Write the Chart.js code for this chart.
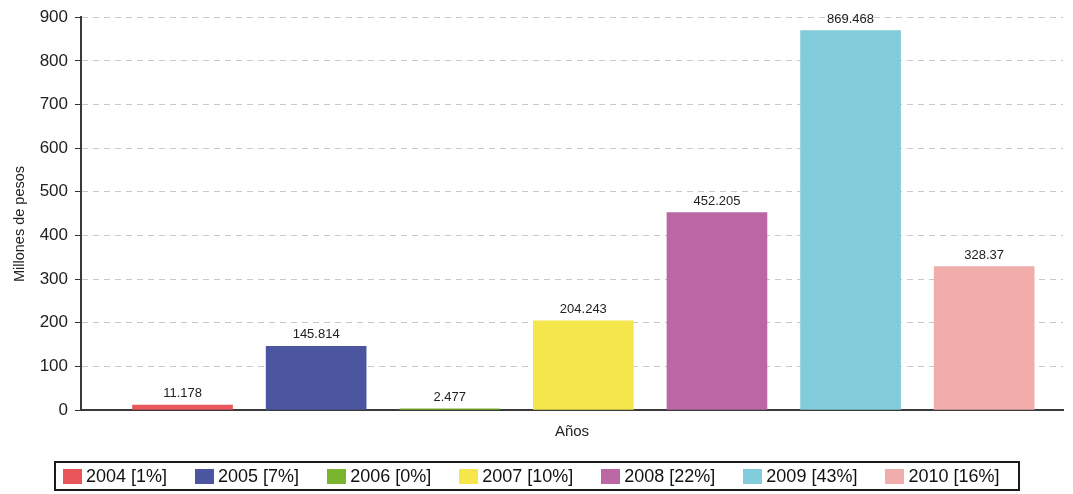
<!DOCTYPE html>
<html>
<head>
<meta charset="utf-8">
<script src="https://cdn.jsdelivr.net/npm/chart.js@4.4.0/dist/chart.umd.min.js"></script>
<style>
  body { margin: 0; background: #fff; font-family: 'Liberation Sans', Arial, sans-serif; }
  #wrap { position: relative; width: 1073px; height: 494px; }
  #legend {
    position: absolute; left: 54px; top: 461px; width: 966px; height: 30px;
    box-sizing: border-box; border: 2px solid #1a1a1a;
    display: flex; align-items: center; padding-left: 7px; white-space: nowrap;
  }
  .item { display: flex; flex-shrink: 0; align-items: center; margin-right: 28px; font-size: 18px; color: #111; }
  .item:last-child { margin-right: 0; }
  .sw { width: 19px; height: 15px; margin-right: 4px; flex-shrink: 0; }
</style>
</head>
<body>
<div id="wrap">
  <canvas id="chart" width="1073" height="494"></canvas>
  <div id="legend"></div>
</div>
<script>
// datos
const years = ['2004', '2005', '2006', '2007', '2008', '2009', '2010'];
const values = [11.178, 145.814, 2.477, 204.243, 452.205, 869.468, 328.37];
const shares = [1, 7, 0, 10, 22, 43, 16];
const colors = ['#e8565a', '#4b55a0', '#78b42e', '#f5e64b', '#ba67a3', '#81cbda', '#f1acac'];
const yTicks = [0, 100, 200, 300, 400, 500, 600, 700, 800, 900];

// leyenda
const legend = document.getElementById('legend');
years.forEach((y, i) => {
  legend.innerHTML += `<div class="item"><div class="sw" style="background:${colors[i]}"></div>${y} [${shares[i]}%]</div>`;
});

// etiquetas encima de las barras + titulo del eje y
const valueLabels = {
  id: 'valueLabels',
  afterDatasetsDraw(chart) {
    const ctx = chart.ctx;
    const meta = chart.getDatasetMeta(0);
    ctx.save();
    ctx.font = '13px "Liberation Sans", Arial, sans-serif';
    ctx.fillStyle = '#222';
    ctx.textAlign = 'center';
    ctx.textBaseline = 'bottom';
    meta.data.forEach((bar, i) => {
      ctx.fillText(String(values[i]), bar.x, bar.y - 5);
    });
    // titulo vertical
    ctx.font = '14.5px "Liberation Sans", Arial, sans-serif';
    ctx.textBaseline = 'middle';
    ctx.translate(20, 224);
    ctx.rotate(-Math.PI / 2);
    ctx.fillText('Millones de pesos', 0, 0);
    ctx.restore();
  }
};

new Chart(document.getElementById('chart'), {
  type: 'bar',
  data: {
    datasets: [{
      data: values.map((v, i) => ({ x: i, y: v })),
      backgroundColor: colors,
      borderWidth: 0,
      barThickness: 100
    }]
  },
  options: {
    responsive: false,
    animation: false,
    layout: { padding: { top: 16, right: 10, bottom: 53, left: 0 } },
    plugins: { legend: { display: false }, tooltip: { enabled: false } },
    scales: {
      x: {
        type: 'linear',
        offset: false,
        min: -0.76,
        max: 6.59,
        ticks: { display: false },
        grid: { display: false, drawTicks: false },
        border: { color: '#3a3a3a', width: 2 },
        title: {
          display: true, text: 'Años', color: '#222', padding: 0,
          font: { family: '"Liberation Sans", Arial, sans-serif', size: 15 }
        },
        afterFit(scale) { scale.height = 31; }
      },
      y: {
        min: 0,
        max: 900,
        afterBuildTicks(scale) { scale.ticks = yTicks.map(v => ({ value: v })); },
        ticks: {
          color: '#222', padding: 7,
          font: { family: '"Liberation Sans", Arial, sans-serif', size: 17 }
        },
        grid: { color: '#c8c8c8', tickColor: '#333', tickLength: 6, lineWidth: 1 },
        border: { color: '#3a3a3a', width: 2, dash: [6, 5] },
        afterFit(scale) { scale.width = 81; }
      }
    }
  },
  plugins: [valueLabels]
});
</script>
</body>
</html>
